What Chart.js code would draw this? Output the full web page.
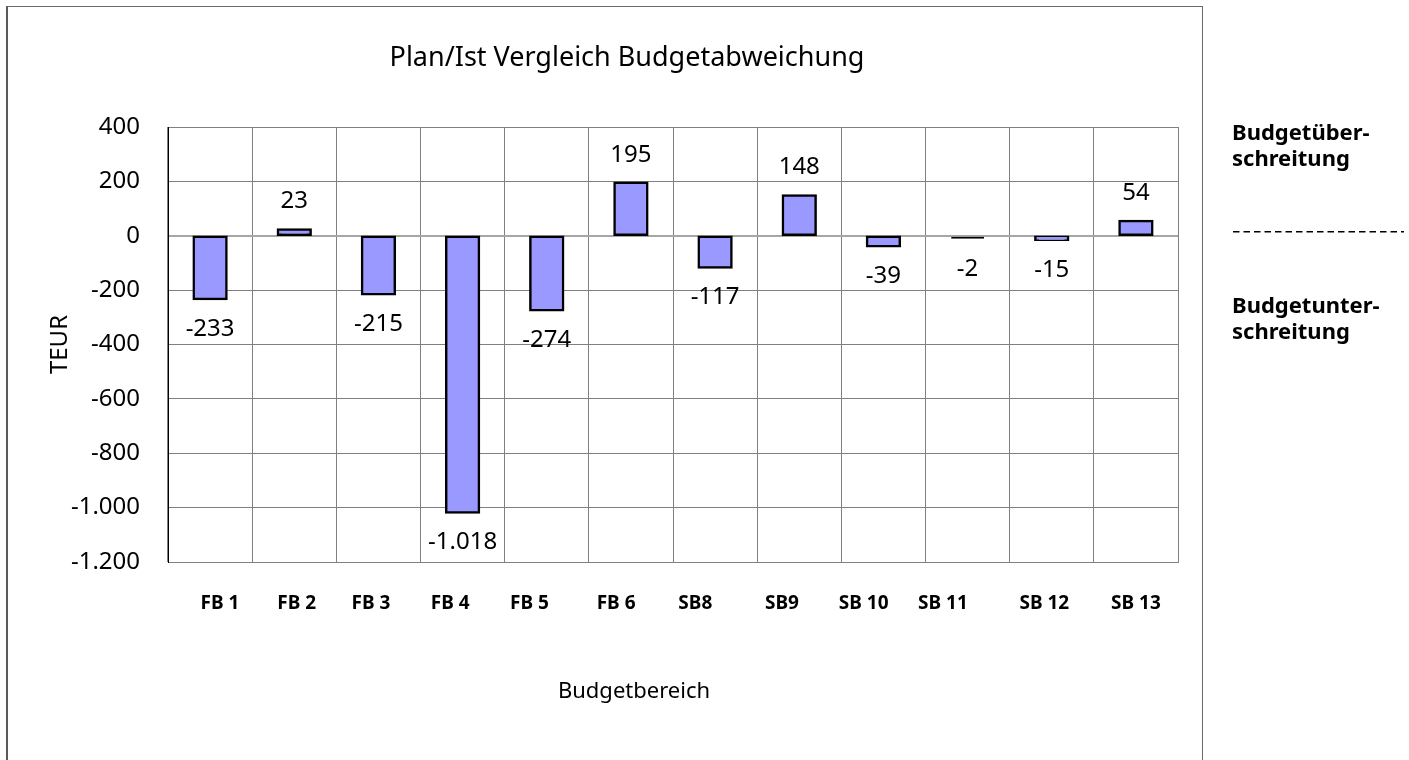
<!DOCTYPE html>
<html>
<head>
<meta charset="utf-8">
<script src="https://cdn.jsdelivr.net/npm/chart.js@4"></script>
<style>
  body{margin:0;background:#fff;}
  .frame{position:absolute;left:6px;top:6px;width:1197px;height:760px;border:1px solid #6a6a6a;border-left:2px solid #5a5a5a;box-sizing:border-box;}
  canvas{position:absolute;left:0;top:0;}
</style>
</head>
<body>
<div class="frame"></div>
<canvas id="c" width="1409" height="760"></canvas>
<script>
// Budgetbereiche (Beschriftungen wie im Original, inkl. Leerzeichen) und Abweichungen in TEUR
const categories = ['    FB 1', ' FB 2', 'FB 3   ', 'FB 4     ', 'FB 5       ', 'FB 6      ',
                    'SB8        ', 'SB9       ', 'SB 10        ', 'SB 11          ', 'SB 12   ', 'SB 13'];
const deviation = [-233, 23, -215, -1018, -274, 195, -117, 148, -39, -2, -15, 54];
const yTicks = [400, 200, 0, -200, -400, -600, -800, -1000, -1200];

const FONT = '"Noto Sans", "DejaVu Sans", sans-serif';

function fmt(v){
     const s = Math.abs(v).toString().replace(/\B(?=(\d{3})+(?!\d))/g, '.');
     return (v < 0 ? '-' : '') + s;
}

// Datenbeschriftungen, Titel und Hinweise rechts
const extras = {
     id: 'extras',
     afterDatasetsDraw(chart){
          const ctx = chart.ctx;
          const meta = chart.getDatasetMeta(0);
          ctx.save();
          ctx.fillStyle = '#000';
          ctx.textAlign = 'center';
          ctx.textBaseline = 'middle';
          ctx.font = '24px ' + FONT;
          meta.data.forEach(function(bar, i){
               const v = deviation[i];
               const y = v >= 0 ? bar.y - 28 : bar.y + 30;
               ctx.fillText(fmt(v), bar.x, y);
          });

          ctx.textBaseline = 'alphabetic';
          ctx.font = '27px ' + FONT;
          ctx.fillText('Plan/Ist Vergleich Budgetabweichung', 627, 66);
          ctx.font = '22px ' + FONT;
          ctx.fillText('Budgetbereich', 634, 698);

          ctx.textAlign = 'left';
          ctx.font = 'bold 22px ' + FONT;
          ctx.fillText('Budgetüber-', 1232, 140);
          ctx.fillText('schreitung', 1232, 166);
          ctx.fillText('Budgetunter-', 1232, 313);
          ctx.fillText('schreitung', 1232, 339);

          const y0 = chart.scales.y.getPixelForValue(0) - 4;
          ctx.strokeStyle = '#000';
          ctx.lineWidth = 1.3;
          ctx.setLineDash([6.5, 4]);
          ctx.beginPath();
          ctx.moveTo(1233, y0);
          ctx.lineTo(1404, y0);
          ctx.stroke();
          ctx.restore();
     }
};

new Chart(document.getElementById('c'), {
     type: 'bar',
     data: {
          labels: categories,
          datasets: [{
               data: deviation,
               backgroundColor: '#9999ff',
               borderColor: '#000',
               borderWidth: 2.5,
               borderSkipped: false,
               // Rahmen mittig auf der Kante wie in Excel
               inflateAmount: c => Math.abs(c.raw) < 5 ? 0 : 1.25,
               minBarLength: 3,
               barPercentage: 0.39,
               categoryPercentage: 1
          }]
     },
     options: {
          responsive: false,
          animation: false,
          events: [],
          layout: { padding: { left: 42, top: 127, right: 231, bottom: 0 } },
          plugins: { legend: { display: false }, tooltip: { enabled: false }, title: { display: false } },
          scales: {
               x: {
                    grid: { offset: true, color: '#808080', lineWidth: 1, drawTicks: false },
                    border: { color: '#808080' },
                    ticks: { color: '#000', padding: 30, maxRotation: 0, autoSkip: false,
                             font: { family: FONT, size: 19, weight: 'bold' } },
                    afterFit(scale){ scale.height = 198; }
               },
               y: {
                    min: -1200, max: 400,
                    afterBuildTicks(scale){ scale.ticks = yTicks.map(v => ({ value: v })); },
                    grid: {
                         drawTicks: false,
                         color: c => c.tick && c.tick.value === 0 ? '#a6a6a6' : '#808080',
                         lineWidth: c => c.tick && c.tick.value === 0 ? 2 : 1
                    },
                    border: { color: '#000', width: 1 },
                    ticks: { color: '#000', padding: 28, callback: v => fmt(v),
                             font: { family: FONT, size: 24 } },
                    title: { display: true, text: 'TEUR', color: '#000', padding: { top: 4, bottom: 0 },
                             font: { family: FONT, size: 24 } },
                    afterFit(scale){ scale.width = 126; }
               }
          }
     },
     plugins: [extras]
});
</script>
</body>
</html>
